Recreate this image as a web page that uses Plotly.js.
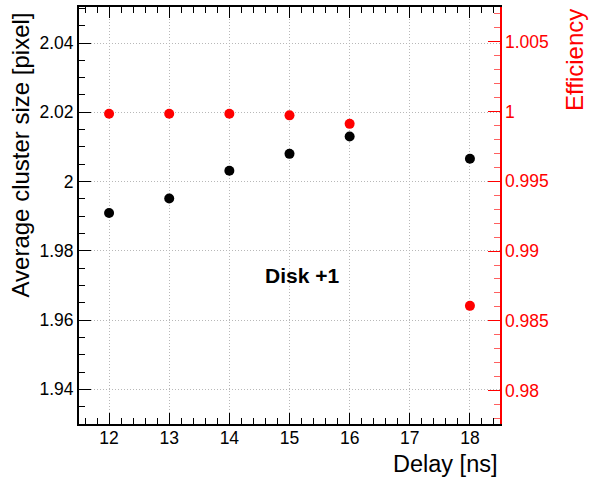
<!DOCTYPE html>
<html>
<head>
<meta charset="utf-8">
<script src="https://cdn.plot.ly/plotly-3.0.1.min.js"></script>
<style>html,body{margin:0;padding:0;background:#fff;}#chart{width:590px;height:477px;}</style>
</head>
<body>
<div id="chart"></div>
<script>
const delay = [12, 13, 14, 15, 16, 18];
const clusterSize = [1.9909, 1.9951, 2.0031, 2.0080, 2.0130, 2.0066];
const efficiency = [0.99984, 0.99984, 0.99984, 0.99973, 0.99912, 0.98607];
const xTickVals = [12, 13, 14, 15, 16, 17, 18];

const FONT = 'Liberation Sans, Arial, Helvetica, sans-serif';
const GRID = '#b8b8b8';

const traces = [
  {x: delay, y: clusterSize, type: 'scatter', mode: 'markers', yaxis: 'y',
   marker: {color: '#000000', size: 10}, cliponaxis: false, showlegend: false},
  {x: delay, y: efficiency, type: 'scatter', mode: 'markers', yaxis: 'y2',
   marker: {color: '#ff0000', size: 10}, cliponaxis: false, showlegend: false}
];

const layout = {
  width: 590, height: 477,
  margin: {l: 79, r: 90, t: 7, b: 53, pad: 0},
  paper_bgcolor: '#ffffff', plot_bgcolor: '#ffffff',
  font: {family: FONT, size: 18, color: '#000'},
  showlegend: false,
  xaxis: {
    range: [11.5, 18.5], tickvals: xTickVals, ticks: 'inside', ticklen: 11, tickwidth: 1,
    tickcolor: '#000', showline: true, linecolor: '#000', linewidth: 2, mirror: 'ticks',
    showgrid: true, gridcolor: GRID, griddash: '1px,2px', gridwidth: 1, zeroline: false,
    ticklabelstandoff: -3,
    tickfont: {family: FONT, size: 17.5, color: '#000'},
    minor: {dtick: 0.2, tick0: 12, ticks: 'inside', ticklen: 6, tickcolor: '#000', showgrid: false}
  },
  yaxis: {
    range: [1.93, 2.0504], dtick: 0.02, tick0: 1.94, ticks: 'inside', ticklen: 12, tickwidth: 1,
    tickcolor: '#000', showline: true, linecolor: '#000', linewidth: 2, mirror: false,
    showgrid: true, gridcolor: GRID, griddash: '1px,2px', gridwidth: 1, zeroline: false,
    tickfont: {family: FONT, size: 17.5, color: '#000'},
    minor: {dtick: 0.005, tick0: 1.94, ticks: 'inside', ticklen: 6, tickcolor: '#000', showgrid: false}
  },
  yaxis2: {
    overlaying: 'y', side: 'right', range: [0.9776, 1.0075], dtick: 0.005, tick0: 0.98,
    ticks: 'inside', ticklen: 12, tickwidth: 1, tickcolor: '#ff0000',
    showline: true, linecolor: '#ff0000', linewidth: 1.5, showgrid: false, zeroline: false,
    tickfont: {family: FONT, size: 17.5, color: '#ff0000'},
    minor: {dtick: 0.001, tick0: 0.98, ticks: 'inside', ticklen: 6, tickcolor: '#ff6060', showgrid: false}
  },
  annotations: [
    {text: 'Average cluster size [pixel]', xref: 'paper', yref: 'paper',
     x: -0.1378, y: 0.9928, xanchor: 'center', yanchor: 'top', textangle: -90,
     showarrow: false, font: {family: FONT, size: 24, color: '#000'}},
    {text: 'Efficiency', xref: 'paper', yref: 'paper',
     x: 1.1758, y: 1.0, xanchor: 'center', yanchor: 'top', textangle: -90,
     showarrow: false, font: {family: FONT, size: 24, color: '#ff0000'}},
    {text: 'Delay [ns]', xref: 'paper', yref: 'paper',
     x: 1.0, y: -0.096, xanchor: 'right', yanchor: 'middle',
     showarrow: false, font: {family: FONT, size: 23.5, color: '#000'}},
    {text: '<b>Disk +1</b>', xref: 'paper', yref: 'paper',
     x: 0.529, y: 0.355, xanchor: 'center', yanchor: 'middle',
     showarrow: false, font: {family: FONT, size: 21, color: '#000'}}
  ]
};

Plotly.newPlot('chart', traces, layout, {staticPlot: true, displayModeBar: false});
</script>
</body>
</html>
